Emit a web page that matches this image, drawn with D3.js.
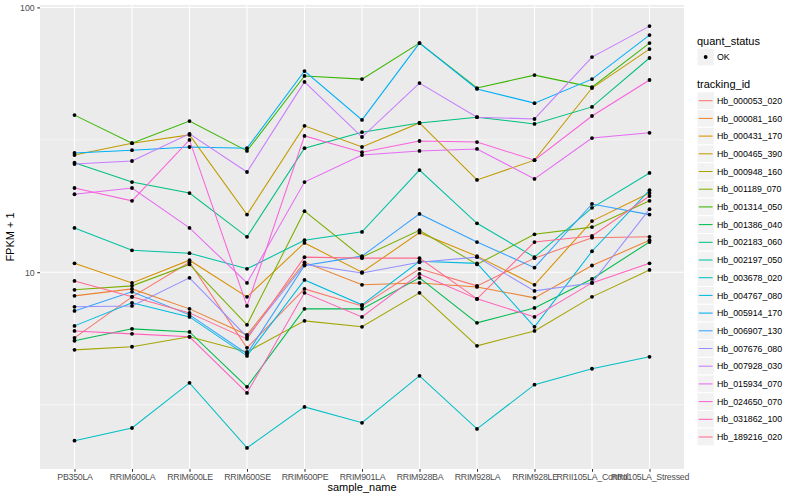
<!DOCTYPE html>
<html>
<head>
<meta charset="utf-8">
<script src="https://cdn.jsdelivr.net/npm/d3@7"></script>
<style>
  html, body { margin: 0; padding: 0; background: #fff; }
  svg { display: block; font-family: "Liberation Sans", Arial, Helvetica, sans-serif; }
</style>
</head>
<body>
<svg id="chart" width="800" height="500"></svg>
<script>
// ---------------- data ----------------
const categories = ["PB350LA", "RRIM600LA", "RRIM600LE", "RRIM600SE", "RRIM600PE", "RRIM901LA",
  "RRIM928BA", "RRIM928LA", "RRIM928LE", "RRII105LA_Control", "RRII105LA_Stressed"];

const trackingIds = ["Hb_000053_020", "Hb_000081_160", "Hb_000431_170", "Hb_000465_390", "Hb_000948_160",
  "Hb_001189_070", "Hb_001314_050", "Hb_001386_040", "Hb_002183_060", "Hb_002197_050",
  "Hb_003678_020", "Hb_004767_080", "Hb_005914_170", "Hb_006907_130", "Hb_007676_080",
  "Hb_007928_030", "Hb_015934_070", "Hb_024650_070", "Hb_031862_100", "Hb_189216_020"];

// FPKM + 1 per sample (order = categories)
const hb_000053_020 = [5.65, 8.07, 10.9, 5.18, 8.65, 7.46, 10.3, 8.88, 11.3, 13.5, 13.6];
const hb_000081_160 = [8.14, 8.65, 7.27, 5.80, 10.9, 8.96, 9.11, 8.80, 8.00, 10.6, 13.2];
const hb_000431_170 = [10.8, 9.11, 11.1, 8.07, 12.9, 10.0, 14.1, 11.5, 8.96, 15.6, 19.9];
const hb_000465_390 = [27.7, 30.7, 33.0, 16.5, 35.7, 29.7, 36.6, 22.3, 26.5, 49.6, 69.6];
const hb_000948_160 = [5.09, 5.23, 5.70, 5.00, 6.55, 6.22, 8.36, 5.27, 6.00, 8.07, 10.2];
const hb_001189_070 = [8.58, 8.88, 10.7, 6.33, 17.0, 11.4, 14.4, 10.7, 13.9, 14.8, 18.6];
const hb_001314_050 = [39.2, 30.7, 37.2, 28.7, 55.1, 53.6, 73.3, 49.6, 55.5, 50.0, 73.3];
const hb_001386_040 = [5.51, 6.11, 5.95, 3.69, 7.27, 7.27, 9.52, 6.44, 7.33, 9.43, 13.0];
const hb_002183_060 = [25.9, 21.9, 19.9, 13.6, 29.4, 33.8, 36.6, 38.5, 36.3, 42.1, 64.4];
const hb_002197_050 = [14.7, 12.1, 11.8, 10.3, 13.2, 14.2, 24.3, 15.3, 11.4, 17.5, 23.7];
const hb_003678_020 = [2.31, 2.58, 3.82, 2.17, 3.10, 2.70, 4.06, 2.56, 3.76, 4.32, 4.79];
const hb_004767_080 = [6.27, 7.66, 6.78, 4.83, 9.35, 7.53, 11.0, 10.8, 6.22, 12.0, 20.4];
const hb_005914_170 = [28.2, 28.9, 29.7, 29.4, 57.5, 37.6, 73.3, 49.2, 43.5, 53.6, 78.6];
const hb_006907_130 = [7.14, 8.43, 6.90, 4.92, 10.6, 11.5, 16.6, 13.0, 10.4, 18.1, 16.5];
const hb_007676_080 = [7.40, 7.46, 9.52, 5.70, 10.7, 9.94, 10.9, 11.4, 8.50, 9.11, 17.3];
const hb_007928_030 = [25.6, 26.3, 33.3, 23.9, 52.3, 32.4, 51.8, 38.5, 37.9, 64.9, 85.0];
const hb_015934_070 = [19.7, 20.8, 14.7, 9.11, 21.9, 27.7, 28.7, 29.2, 22.5, 32.1, 33.6];
const hb_024650_070 = [20.8, 18.6, 31.6, 7.46, 32.7, 28.4, 31.3, 31.0, 26.5, 38.9, 53.2];
const hb_031862_100 = [6.00, 5.85, 5.70, 3.50, 8.36, 6.78, 9.85, 7.93, 6.78, 9.11, 10.8];
const hb_189216_020 = [9.27, 8.07, 7.02, 5.60, 11.4, 11.3, 11.3, 7.93, 13.0, 13.7, 19.4];

const seriesValues = [hb_000053_020, hb_000081_160, hb_000431_170, hb_000465_390, hb_000948_160,
  hb_001189_070, hb_001314_050, hb_001386_040, hb_002183_060, hb_002197_050,
  hb_003678_020, hb_004767_080, hb_005914_170, hb_006907_130, hb_007676_080,
  hb_007928_030, hb_015934_070, hb_024650_070, hb_031862_100, hb_189216_020];

const yTickValues = [10, 100];
const yTickLabels = ["10", "100"];
const quantStatus = ["OK"];

// ---------------- styles ----------------
const palette = ["#F8766D", "#EA8331", "#D89000", "#C09B00", "#A3A500", "#7CAE00", "#39B600", "#00BB4E",
  "#00BF7D", "#00C1A3", "#00BFC4", "#00BAE0", "#00B0F6", "#35A2FF", "#9590FF", "#C77CFF",
  "#E76BF3", "#FA62DB", "#FF62BC", "#FF6C91"];

const series = trackingIds.map((id, i) => ({
  id, color: palette[i],
  points: categories.map((c, j) => ({ cat: c, v: seriesValues[i][j] }))
}));

const panel = { left: 40, right: 684, top: 5, bottom: 469 };
const svg = d3.select("#chart");

// scales
const x = d3.scalePoint().domain(categories).range([panel.left, panel.right]).padding(0.6);
const allV = seriesValues.flat();
const lmin = Math.log10(d3.min(allV)), lmax = Math.log10(d3.max(allV));
const ex = (lmax - lmin) * 0.05;
const y = d3.scaleLog().domain([Math.pow(10, lmin - ex), Math.pow(10, lmax + ex)]).range([panel.bottom, panel.top]);

// panel background
svg.append("rect").attr("x", panel.left).attr("y", panel.top)
  .attr("width", panel.right - panel.left).attr("height", panel.bottom - panel.top)
  .attr("fill", "#EBEBEB");

// minor gridlines (midway in log space)
const minorVals = [];
for (let k = 0; k < yTickValues.length - 1; k++) minorVals.push(Math.sqrt(yTickValues[k] * yTickValues[k + 1]));
minorVals.unshift(yTickValues[0] / Math.sqrt(10));
const g = svg.append("g");
g.selectAll("line.minor").data(minorVals.filter(v => y(v) >= panel.top && y(v) <= panel.bottom)).enter()
  .append("line").attr("x1", panel.left).attr("x2", panel.right)
  .attr("y1", d => y(d)).attr("y2", d => y(d))
  .attr("stroke", "#fff").attr("stroke-width", 0.55);
g.selectAll("line.major").data(yTickValues).enter()
  .append("line").attr("x1", panel.left).attr("x2", panel.right)
  .attr("y1", d => y(d)).attr("y2", d => y(d))
  .attr("stroke", "#fff").attr("stroke-width", 1.1);
g.selectAll("line.vmajor").data(categories).enter()
  .append("line").attr("y1", panel.top).attr("y2", panel.bottom)
  .attr("x1", d => x(d)).attr("x2", d => x(d))
  .attr("stroke", "#fff").attr("stroke-width", 1.1);

// lines
const lineGen = d3.line().x(d => x(d.cat)).y(d => y(d.v));
svg.append("g").selectAll("path").data(series).enter()
  .append("path").attr("d", d => lineGen(d.points))
  .attr("fill", "none").attr("stroke", d => d.color).attr("stroke-width", 1.05);

// points
svg.append("g").selectAll("circle").data(series.flatMap(s => s.points)).enter()
  .append("circle").attr("cx", d => x(d.cat)).attr("cy", d => y(d.v)).attr("r", 1.9)
  .attr("fill", "#000");

// axes
const xAxis = svg.append("g").attr("transform", `translate(0,${panel.bottom})`)
  .call(d3.axisBottom(x).tickSize(2.75).tickPadding(2.5));
const yAxis = svg.append("g").attr("transform", `translate(${panel.left},0)`)
  .call(d3.axisLeft(y).tickValues(yTickValues).tickFormat((d, i) => yTickLabels[i]).tickSize(2.75).tickPadding(2.5));
[xAxis, yAxis].forEach(a => {
  a.select(".domain").remove();
  a.selectAll(".tick line").attr("stroke", "#333333").attr("stroke-width", 1.05);
  a.selectAll(".tick text").attr("fill", "#4D4D4D").style("font-size", "8.8px")
    .style("font-family", "'Liberation Sans', Arial, sans-serif");
});
xAxis.selectAll(".tick text").style("letter-spacing", "-0.25px");

// axis titles
svg.append("text").attr("x", (panel.left + panel.right) / 2).attr("y", 491)
  .attr("text-anchor", "middle").attr("font-size", 11).attr("fill", "#000").text("sample_name");
svg.append("text").attr("transform", `translate(14,${(panel.top + panel.bottom) / 2}) rotate(-90)`)
  .attr("text-anchor", "middle").attr("font-size", 11).attr("fill", "#000").text("FPKM + 1");

// legend
const lg = svg.append("g");
const keyX = 697, keyW = 17.3, keyH = 17.7;
lg.append("text").attr("x", keyX).attr("y", 45).attr("font-size", 11).text("quant_status");
quantStatus.forEach((q, i) => {
  const cy = 57 + i * keyH;
  lg.append("rect").attr("x", keyX).attr("y", cy - keyH / 2).attr("width", keyW).attr("height", keyH)
    .attr("fill", "#F2F2F2").attr("stroke", "#fff");
  lg.append("circle").attr("cx", keyX + keyW / 2).attr("cy", cy).attr("r", 1.9).attr("fill", "#000");
  lg.append("text").attr("x", 717).attr("y", cy + 3.1).attr("font-size", 8.8).text(q);
});
lg.append("text").attr("x", keyX).attr("y", 88).attr("font-size", 11).text("tracking_id");
series.forEach((s, i) => {
  const cy = 100.7 + i * keyH;
  lg.append("rect").attr("x", keyX).attr("y", cy - keyH / 2).attr("width", keyW).attr("height", keyH)
    .attr("fill", "#F2F2F2").attr("stroke", "#fff");
  lg.append("line").attr("x1", keyX + 1.7).attr("x2", keyX + keyW - 1.7).attr("y1", cy).attr("y2", cy)
    .attr("stroke", s.color).attr("stroke-width", 1.05);
  lg.append("text").attr("x", 717).attr("y", cy + 3.1).attr("font-size", 8.8).text(s.id);
});
</script>
</body>
</html>
